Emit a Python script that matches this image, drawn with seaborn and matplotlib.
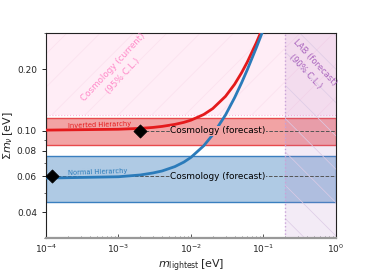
import numpy as np
import pandas as pd
import matplotlib
matplotlib.use("Agg")
import matplotlib.pyplot as plt
import matplotlib.ticker as mticker
import seaborn as sns

# ---- data ----
m_light = [1e-4, 1e-3, 2e-3, 3e-3, 4e-3, 6e-3, 8e-3, 0.01, 0.015, 0.02,
           0.03, 0.04, 0.05, 0.06, 0.08, 0.1]
sum_nh = [0.0588, 0.0597, 0.0609, 0.0623, 0.0637, 0.0669, 0.0704, 0.0742,
          0.0845, 0.0957, 0.1195, 0.1450, 0.1715, 0.1987, 0.2548, 0.3122]
sum_ih = [0.1008, 0.1018, 0.1028, 0.1039, 0.1051, 0.1075, 0.1100, 0.1127,
          0.1201, 0.1284, 0.1473, 0.1686, 0.1920, 0.2167, 0.2691, 0.3239]

forecast_center = [0.10, 0.06]       # IH, NH
forecast_sigma = 0.015
forecast_mark_x = [2.0e-3, 1.2e-4]
cosmo_limit = 0.12
lab_limit = 0.2

xlim = (1e-4, 1.0)
ylim = (0.03, 0.3)
yticks = [0.04, 0.06, 0.08, 0.10, 0.20]

# ---- style ----
sns.set_theme(style="ticks")
plt.rcParams["font.family"] = ["DejaVu Sans"]
plt.rcParams["xtick.labelsize"] = 6.5
plt.rcParams["ytick.labelsize"] = 6.5
plt.rcParams["hatch.linewidth"] = 0.5

fig = plt.figure(figsize=(3.74, 2.8), dpi=100)
ax = fig.add_axes([0.123, 0.15, 0.775, 0.732])
ax.set_xscale("log")
ax.set_yscale("log")
ax.set_xlim(*xlim)
ax.set_ylim(*ylim)

# current cosmology bound (pink, hatched)
ax.axhspan(cosmo_limit, ylim[1], facecolor="#ff9ed2", alpha=0.18, lw=0, zorder=0)
ax.axhspan(cosmo_limit, ylim[1], facecolor="none", edgecolor="#fbe0ee",
           hatch="/", lw=0, zorder=0)
ax.axhline(cosmo_limit, color="#ffb3dc", ls=":", lw=0.8, zorder=0)

# forecast bands
band_cols = ["#e8494c", "#3a7fbf"]
band_fill = ["#f2a3a4", "#afcae4"]
for c, ec, fc in zip(forecast_center, band_cols, band_fill):
    ax.axhspan(c - forecast_sigma, c + forecast_sigma, facecolor=fc,
               edgecolor=ec, lw=1.0, zorder=1)

# LAB forecast (purple, hatched) drawn over the bands
ax.axvspan(lab_limit, xlim[1], facecolor="#b57fc6", alpha=0.15, lw=0, zorder=1.5)
ax.axvspan(lab_limit, xlim[1], facecolor="none", edgecolor="#dccbe6",
           hatch="\\", lw=0, zorder=1.5)
ax.axvline(lab_limit, color="#c9a3d8", ls=":", lw=1.0, zorder=1.5)

# dashed forecast lines
for c, mx, fc in zip(forecast_center, forecast_mark_x, band_fill):
    ax.plot([mx, xlim[1]], [c, c], color="#555555", ls="--", lw=0.7, zorder=2)
    ax.text(5.2e-3, c, "Cosmology (forecast)", fontsize=6.4, va="center",
            ha="left", color="black", zorder=4,
            bbox=dict(facecolor=fc, edgecolor="none", pad=0.3))

# hierarchy curves
df = pd.DataFrame({"m": m_light * 2,
                   "sum": sum_ih + sum_nh,
                   "h": ["IH"] * len(m_light) + ["NH"] * len(m_light)})
sns.lineplot(data=df, x="m", y="sum", hue="h",
             palette={"IH": "#e41a1c", "NH": "#2b7bba"},
             lw=2.0, legend=False, ax=ax, zorder=3)

marks = pd.DataFrame({"x": forecast_mark_x, "y": forecast_center})
sns.scatterplot(data=marks, x="x", y="y", marker="D", s=45, color="black",
                edgecolor="black", ax=ax, zorder=5, legend=False)

ax.text(2.0e-4, 0.1065, "Inverted Hierarchy", fontsize=4.9, color="#e41a1c",
        rotation=2, ha="left", va="center")
ax.text(2.0e-4, 0.0630, "Normal Hierarchy", fontsize=4.9, color="#2b7bba",
        rotation=2, ha="left", va="center")

ax.text(1.0e-3, 0.195, "Cosmology (current)\n(95% C.L.)", fontsize=6.3,
        color="#ff7fc4", rotation=47, ha="center", va="center",
        linespacing=1.6, alpha=0.9)
ax.text(0.44, 0.205, "LAB (forecast)\n(90% C.L.)", fontsize=6.0,
        color="#a157b8", rotation=-47, ha="center", va="center",
        linespacing=1.6, alpha=0.9)

# axes
ax.yaxis.set_major_locator(mticker.FixedLocator(yticks))
ax.yaxis.set_major_formatter(mticker.FormatStrFormatter("%.2f"))
ax.yaxis.set_minor_formatter(mticker.NullFormatter())
ax.xaxis.set_major_locator(mticker.LogLocator(base=10, numticks=10))
ax.tick_params(which="major", length=3, width=0.7)
ax.tick_params(which="minor", length=1.5, width=0.5)
ax.tick_params(axis="x", which="both", direction="in", color="#555555")
for s in ax.spines.values():
    s.set_linewidth(0.8)
    s.set_color("#222222")
ax.spines["bottom"].set_color("#999999")
ax.spines["bottom"].set_linewidth(1.6)

ax.set_xlabel(r"$m_{\rm lightest}\,$[eV]", fontsize=8, labelpad=2)
ax.set_ylabel(r"$\Sigma m_\nu\,$[eV]", fontsize=8, labelpad=1)

fig.savefig("out.png", dpi=100)
